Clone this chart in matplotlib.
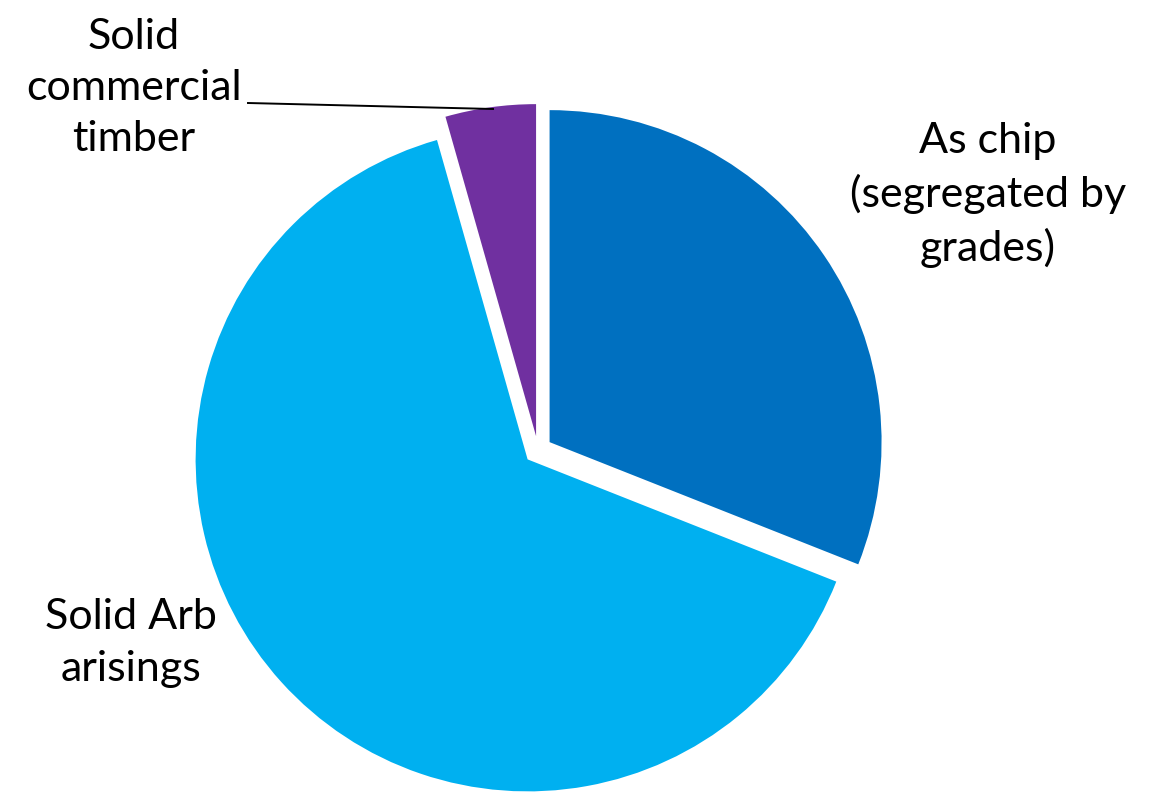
import matplotlib.pyplot as plt

labels = ["As chip\n(segregated by\ngrades)", "Solid Arb\narisings", "Solid\ncommercial\ntimber"]
shares = [31.0, 64.6, 4.4]
colors = ["#0070C0", "#00B0F0", "#7030A0"]

W, H = 1149, 792

plt.rcParams["font.family"] = ["Lato", "DejaVu Sans"]

fig = plt.figure(figsize=(W / 100, H / 100), dpi=100)
ax = fig.add_axes([0, 0, 1, 1])

# explode is in data units here (pixels), radius too
ax.pie(
    shares,
    colors=colors,
    startangle=90,
    counterclock=False,
    explode=[14] * len(shares),
    radius=332,
    center=(538, H - 450),
    wedgeprops=dict(linewidth=0),
)
ax.set_xlim(0, W)
ax.set_ylim(0, H)
ax.set_aspect("equal")
ax.axis("off")

fs = 31
ls = 1.42
ax.text(988, H - 195, labels[0], ha="center", va="center", fontsize=fs, linespacing=ls)
ax.text(131, H - 643, labels[1], ha="center", va="center", fontsize=fs, linespacing=ls)
ax.text(134, H - 88, labels[2], ha="center", va="center", fontsize=fs, linespacing=ls)

# leader line for the small slice
ax.plot([248, 493], [H - 103, H - 109], color="black", lw=1.4)

fig.savefig("out.png", dpi=100)
